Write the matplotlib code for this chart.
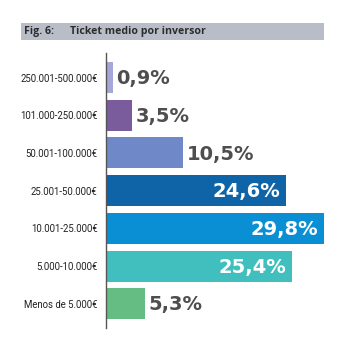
import matplotlib
matplotlib.use("Agg")
import matplotlib.pyplot as plt
from matplotlib.patches import Rectangle

categories = ["250.001-500.000€", "101.000-250.000€", "50.001-100.000€",
              "25.001-50.000€", "10.001-25.000€", "5.000-10.000€", "Menos de 5.000€"]
values = [0.9, 3.5, 10.5, 24.6, 29.8, 25.4, 5.3]
labels = ["0,9%", "3,5%", "10,5%", "24,6%", "29,8%", "25,4%", "5,3%"]
colors = ["#a7a6d9", "#7a5b9c", "#6f88c8", "#0e64a6", "#0a8fd4", "#40bfbe", "#66bd84"]
inside = [False, False, False, True, True, True, False]

W, H = 354, 360
fig = plt.figure(figsize=(W/100, H/100), dpi=100)
fig.patch.set_facecolor("white")

# title band
fig.patches.append(Rectangle((21/W, 1-40/H), (324-21)/W, 17/H, transform=fig.transFigure,
                             facecolor="#b9bdc8", edgecolor="none"))
fig.text(24/W, 1-31.5/H, "Fig. 6:", fontsize=7.6, fontweight="bold", color="#2b2b2b",
         va="center", ha="left", family="Open Sans")
fig.text(70/W, 1-31.5/H, "Ticket medio por inversor", fontsize=7.6, fontweight="bold",
         color="#2b2b2b", va="center", ha="left", family="Open Sans")

ax = fig.add_axes([106/W, 1-328/H, 234/W, 275/H])
y = list(range(len(values)))
ax.barh(y, values, height=0.82, color=colors)
ax.set_xlim(0, 32)
ax.set_ylim(6.64, -0.65)
for s in ["top", "right", "bottom"]:
    ax.spines[s].set_visible(False)
ax.spines["left"].set_color("#555555")
ax.spines["left"].set_linewidth(1.0)
ax.set_xticks([])
ax.set_yticks(y)
ax.set_yticklabels(categories, fontsize=6.9, color="#222222", family="Roboto")
ax.tick_params(axis="y", length=0, pad=6)

for i, (v, lab, ins) in enumerate(zip(values, labels, inside)):
    if ins:
        ax.text(v - 0.75, i + 0.03, lab, ha="right", va="center", fontsize=14,
                fontweight="bold", color="white", family="DejaVu Sans")
    else:
        ax.text(v + 0.55, i + 0.03, lab, ha="left", va="center", fontsize=14,
                fontweight="bold", color="#4e4e50", family="DejaVu Sans")

fig.savefig("out.png", dpi=100, facecolor="white")
